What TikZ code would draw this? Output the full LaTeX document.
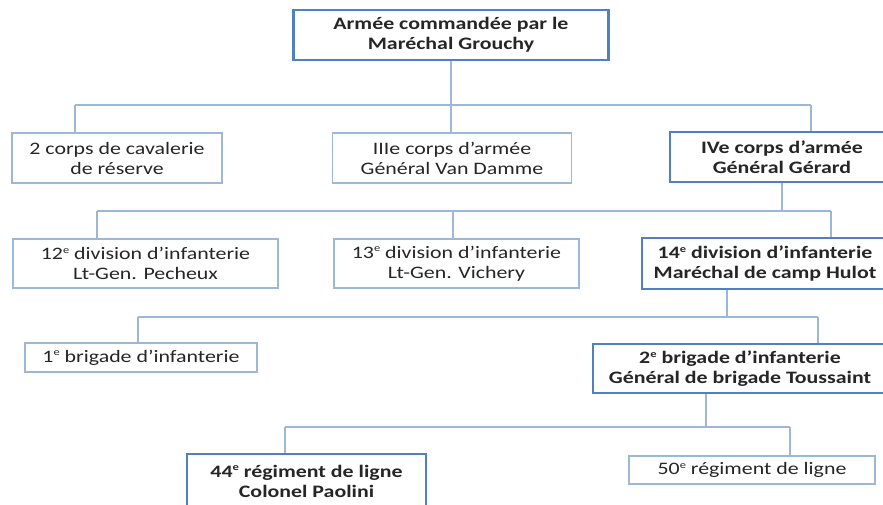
\documentclass[tikz,border=0pt]{standalone}
\usepackage{fontspec}
\setmainfont{Carlito}[FakeStretch=1.25]
\definecolor{txt}{HTML}{262626}
\definecolor{thinblue}{HTML}{9DB7D8}
\definecolor{boldblue}{HTML}{4F81BD}
\tikzset{
  box/.style={draw=thinblue, line width=1.1pt, fill=white, inner sep=0pt, align=center,
    text=txt, font=\fontsize{17.5}{20}\selectfont},
  bbox/.style={box, draw=boldblue, line width=2.6pt, font=\fontsize{17.5}{20}\selectfont\bfseries},
  conn/.style={draw=thinblue, line width=1.1pt}
}
\newcommand{\ee}{\raisebox{0.75ex}{\fontsize{10}{10}\selectfont e}}
\begin{document}
\begin{tikzpicture}[x=1pt,y=-1pt]
\useasboundingbox (0,0) rectangle (883,504);
\clip (0,0) rectangle (883,504);
\fill[white] (0,0) rectangle (883,504);

% junction coordinates
\coordinate (h1L) at (75,105);   \coordinate (h1R) at (811,105);
\coordinate (h2L) at (97,211);   \coordinate (h2R) at (831,211);
\coordinate (h3L) at (138,317);  \coordinate (h3R) at (818,317);
\coordinate (h4L) at (285,427);  \coordinate (h4R) at (790,427);
\coordinate (o14) at (727,289);
\coordinate (o2b) at (706,393);

% connectors (drawn first, boxes on top)
\draw[conn] (451,60) -- (451,133);
\draw[conn] (h1L) -- (h1R);
\draw[conn] (h1L) -- (75,133);
\draw[conn] (h1R) -- (811,132);
\draw[conn] (782,182) -- (782,211);
\draw[conn] (h2L) -- (h2R);
\draw[conn] (h2L) -- (97,239);
\draw[conn] (453,211) -- (453,239);
\draw[conn] (h2R) -- (831,238);
\draw[conn] (o14) -- (o14 |- h3L);
\draw[conn] (h3L) -- (h3R);
\draw[conn] (h3L) -- (138,343);
\draw[conn] (h3R) -- (818,344);
\draw[conn] (o2b) -- (o2b |- h4L);
\draw[conn] (h4L) -- (h4R);
\draw[conn] (h4L) -- (285,454);
\draw[conn] (h4R) -- (790,456);

% nodes
\node[bbox, minimum width=315pt, minimum height=50pt] (top) at (451,35)
  {Armée commandée par le\\Maréchal Grouchy};
\node[box, minimum width=210pt, minimum height=50pt] (cav) at (117,158)
  {2 corps de cavalerie\\de réserve};
\node[box, minimum width=239pt, minimum height=50pt] (iii) at (452,158)
  {IIIe corps d’armée\\Général Van Damme};
\node[bbox, minimum width=224pt, minimum height=50pt] (iv) at (782,157)
  {IVe corps d’armée\\Général Gérard};
\node[box, minimum width=265pt, minimum height=49pt] (d12) at (145.5,263.5)
  {12\ee{} division d’infanterie\\Lt-Gen. Pecheux};
\node[box, minimum width=245pt, minimum height=49pt] (d13) at (456.5,263.5)
  {13\ee{} division d’infanterie\\Lt-Gen. Vichery};
\node[bbox, minimum width=246pt, minimum height=51pt] (d14) at (765,263.5)
  {14\ee{} division d’infanterie\\Maréchal de camp Hulot};
\node[box, minimum width=232pt, minimum height=29pt] (b1) at (141,357.5)
  {1\ee{} brigade d’infanterie};
\node[bbox, minimum width=294pt, minimum height=49pt] (b2) at (740,368.5)
  {2\ee{} brigade d’infanterie\\Général de brigade Toussaint};
\node[bbox, minimum width=239pt, minimum height=54pt] (r44) at (306.5,481)
  {44\ee{} régiment de ligne\\Colonel Paolini};
\node[box, minimum width=246pt, minimum height=28pt] (r50) at (752,470)
  {50\ee{} régiment de ligne};
\end{tikzpicture}
\end{document}
